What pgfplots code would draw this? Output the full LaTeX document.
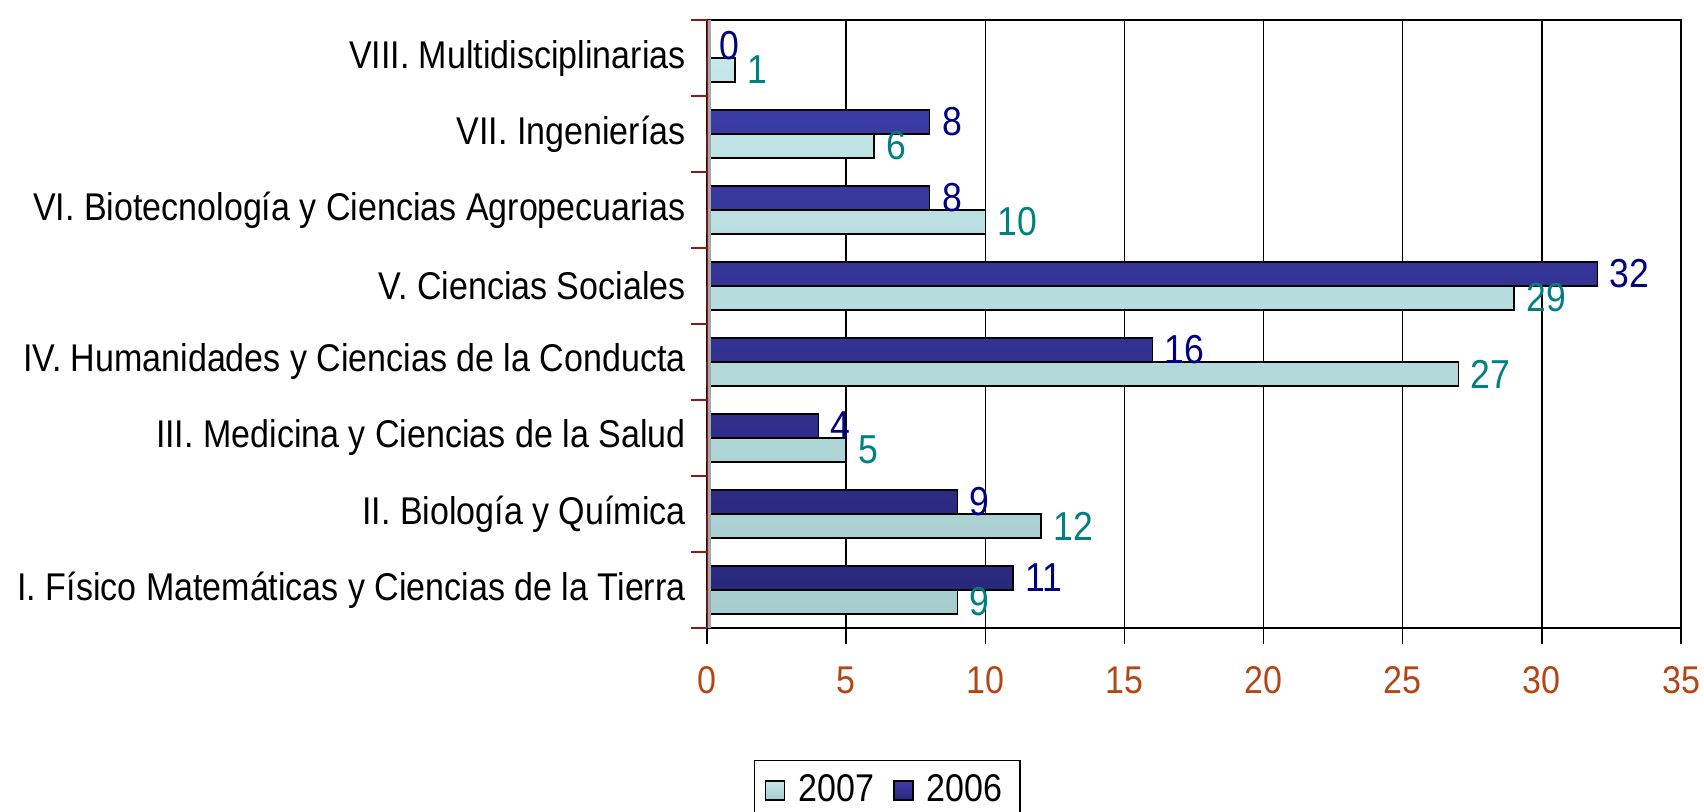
\documentclass[border=0pt]{standalone}
\usepackage{fontspec}
\setmainfont{Liberation Sans}[FakeStretch=0.88]
\usepackage{pgfplots}
\pgfplotsset{compat=1.18}
\definecolor{darkbar}{RGB}{51,51,153}
\definecolor{darkbartop}{RGB}{62,62,170}
\definecolor{darkbarbot}{RGB}{40,40,125}
\definecolor{lightbar}{RGB}{180,220,222}
\definecolor{lightbartop}{RGB}{196,232,234}
\definecolor{lightbarbot}{RGB}{166,204,206}
\definecolor{navylab}{RGB}{0,0,128}
\definecolor{teallab}{RGB}{0,128,128}
\definecolor{ticklab}{RGB}{180,70,20}
\definecolor{axred}{RGB}{150,20,20}
\begin{document}
\begin{tikzpicture}
\begin{axis}[
  /pgf/number format/assume math mode=true,
  scale only axis, width=9.74cm, height=6.08cm,
  xmin=0, xmax=35, ymin=-0.5, ymax=7.5,
  xtick={0,5,...,35},
  ytick={0,...,7},
  yticklabels={I. Físico Matemáticas y Ciencias de la Tierra, II. Biología y Química, III. Medicina y Ciencias de la Salud\ , IV. Humanidades y Ciencias de la Conducta, V. Ciencias Sociales, VI. Biotecnología y Ciencias Agropecuarias, VII. Ingenierías, VIII. Multidisciplinarias},
  xbar=0pt, bar width=0.24cm,
  font=\fontsize{11pt}{13pt}\selectfont,
  tick align=outside,
  xtick pos=bottom, ytick pos=left,
  major tick length=0.16cm,
  ytick style={draw=none},
  xtick style={black, thin},
  extra y ticks={-0.5,0.5,...,7.5},
  extra y tick labels={},
  extra y tick style={ytick style={draw=axred, thin}, major tick length=0.16cm},
  xticklabel style={text=ticklab, yshift=-0.1cm},
  yticklabel style={xshift=0.07cm},
  xmajorgrids, grid style={black, thin},
  axis line style={black, thin},
  nodes near coords,
  every node near coord/.append style={font=\fontsize{11.5pt}{13pt}\selectfont},
  legend columns=2,
  legend style={at={(0.185,-0.217)}, anchor=north, draw=black, thin,
    font=\fontsize{11pt}{13pt}\selectfont,
    /tikz/every odd column/.append style={column sep=0.06cm},
    /tikz/every even column/.append style={column sep=0.12cm}},
  legend image code/.code={\draw[#1, draw=black] (0cm,-0.09cm) rectangle (0.19cm,0.10cm);},
]
\addplot[draw=black, fill=lightbar, top color=lightbartop, bottom color=lightbarbot, bar shift=-0.12cm,
  every node near coord/.append style={text=teallab}]
  coordinates {(9,0) (12,1) (5,2) (27,3) (29,4) (10,5) (6,6) (1,7)};
\addlegendentry{2007}
\addplot[draw=black, fill=darkbar, top color=darkbartop, bottom color=darkbarbot, bar shift=0.12cm,
  every node near coord/.append style={text=navylab}]
  coordinates {(11,0) (9,1) (4,2) (16,3) (32,4) (8,5) (8,6) (0,7)};
\addlegendentry{2006}
\coordinate (O) at (rel axis cs:0,0);
\fill[gray!70] (rel axis cs:0,0) rectangle ([xshift=0.04cm]rel axis cs:0,1);
\draw[axred, semithick] (rel axis cs:0,0) -- (rel axis cs:0,1);
\end{axis}
\pgfresetboundingbox
\path ([shift={(-7.07cm,-1.84cm)}]O) rectangle ([shift={(9.97cm,6.28cm)}]O);
\end{tikzpicture}
\end{document}
